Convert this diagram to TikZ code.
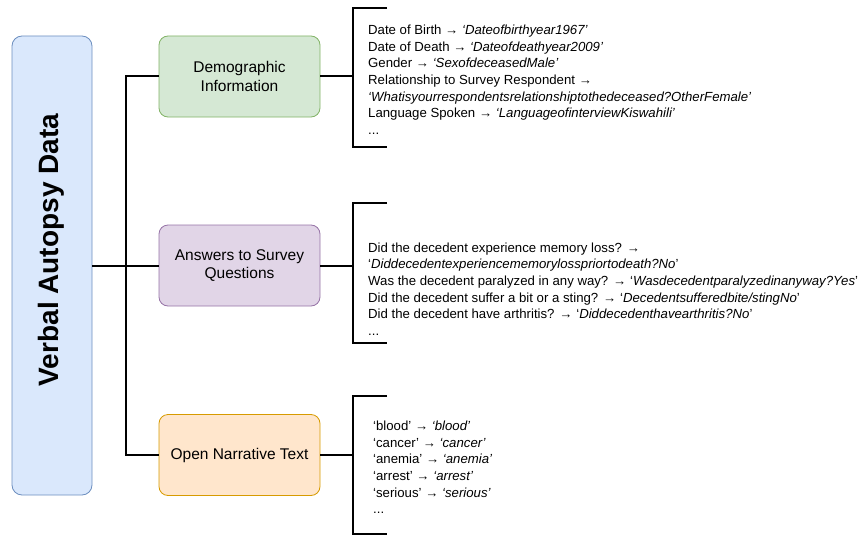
\documentclass[tikz,border=0pt]{standalone}
\usepackage{fontspec}
\setmainfont{Liberation Sans}
\usetikzlibrary{positioning}
\definecolor{vafill}{HTML}{DAE8FC}
\definecolor{vaedge}{HTML}{6C8EBF}
\definecolor{demofill}{HTML}{D5E8D4}
\definecolor{demoedge}{HTML}{82B366}
\definecolor{ansfill}{HTML}{E1D5E7}
\definecolor{ansedge}{HTML}{9673A6}
\definecolor{narrfill}{HTML}{FFE6CC}
\definecolor{narredge}{HTML}{D79B00}

\begin{document}
\begin{tikzpicture}[x=1pt,y=-1pt,
  catbox/.style={draw,rounded corners=9pt,line width=0.8pt,minimum width=161pt,minimum height=81pt,align=center,font=\fontsize{15.5}{18.5}\selectfont},
  link/.style={line width=2pt},
  items/.style={anchor=north west,align=left,inner sep=0pt,font=\fontsize{13.2}{16.6}\selectfont}]
\useasboundingbox (0,0) rectangle (862,535);
% root
\node[draw=vaedge,fill=vafill,line width=0.8pt,rounded corners=10pt,minimum width=80pt,minimum height=459pt] (va) at (52,265.5) {};
\node[rotate=90,font=\fontsize{28}{32}\selectfont\bfseries] (vatitle) at (51,250) {Verbal Autopsy Data};
% categories
\node[catbox,draw=demoedge,fill=demofill] (demo) at (239.5,76.5) {Demographic\\ Information};
\node[catbox,draw=ansedge,fill=ansfill] (ans) at (239.5,265.5) {Answers to Survey\\ Questions};
\node[catbox,draw=narredge,fill=narrfill] (narr) at (239.5,455) {Open Narrative Text};
\coordinate (jn) at (126,265.5);
\draw[link] (va.east) -- (ans.west);
\draw[link] (demo.west) -- (demo.west -| jn) -- (narr.west -| jn) -- (narr.west);
% brackets
\coordinate (b1) at (353,76.5);
\coordinate (b2) at (353,265.5);
\coordinate (b3) at (353,455);
\draw[link] (demo.east) -- (b1);
\draw[link] (ans.east) -- (b2);
\draw[link] (narr.east) -- (b3);
\draw[link] (387,8) -- (353,8) -- (353,147) -- (387,147);
\draw[link] (387,203) -- (353,203) -- (353,343) -- (387,343);
\draw[link] (387,396) -- (353,396) -- (353,534) -- (387,534);
% item lists
\node[items] (demoitems) at (368,25) {Date of Birth → \textit{‘Dateofbirthyear1967’}\\
  Date of Death → \textit{‘Dateofdeathyear2009’}\\
  Gender → \textit{‘SexofdeceasedMale’}\\
  Relationship to Survey Respondent →\\
  \textit{‘Whatisyourrespondentsrelationshiptothedeceased?OtherFemale’}\\
  Language Spoken → \textit{‘LanguageofinterviewKiswahili’}\\
  ...};
\node[items] (ansitems) at (368,242.5) {Did the decedent experience memory loss? →\\
  ‘\textit{Diddecedentexperiencememorylosspriortodeath?No}’\\
  Was the decedent paralyzed in any way? → ‘\textit{Wasdecedentparalyzedinanyway?Yes}’\\
  Did the decedent suffer a bit or a sting? → ‘\textit{Decedentsufferedbite/stingNo}’\\
  Did the decedent have arthritis? → ‘\textit{Diddecedenthavearthritis?No}’\\
  ...};
\node[items] (narritems) at (373,421) {‘blood’ → \textit{‘blood’}\\
  ‘cancer’ → \textit{‘cancer’}\\
  ‘anemia’ → \textit{‘anemia’}\\
  ‘arrest’ → \textit{‘arrest’}\\
  ‘serious’ → \textit{‘serious’}\\
  ...};
\end{tikzpicture}
\end{document}
